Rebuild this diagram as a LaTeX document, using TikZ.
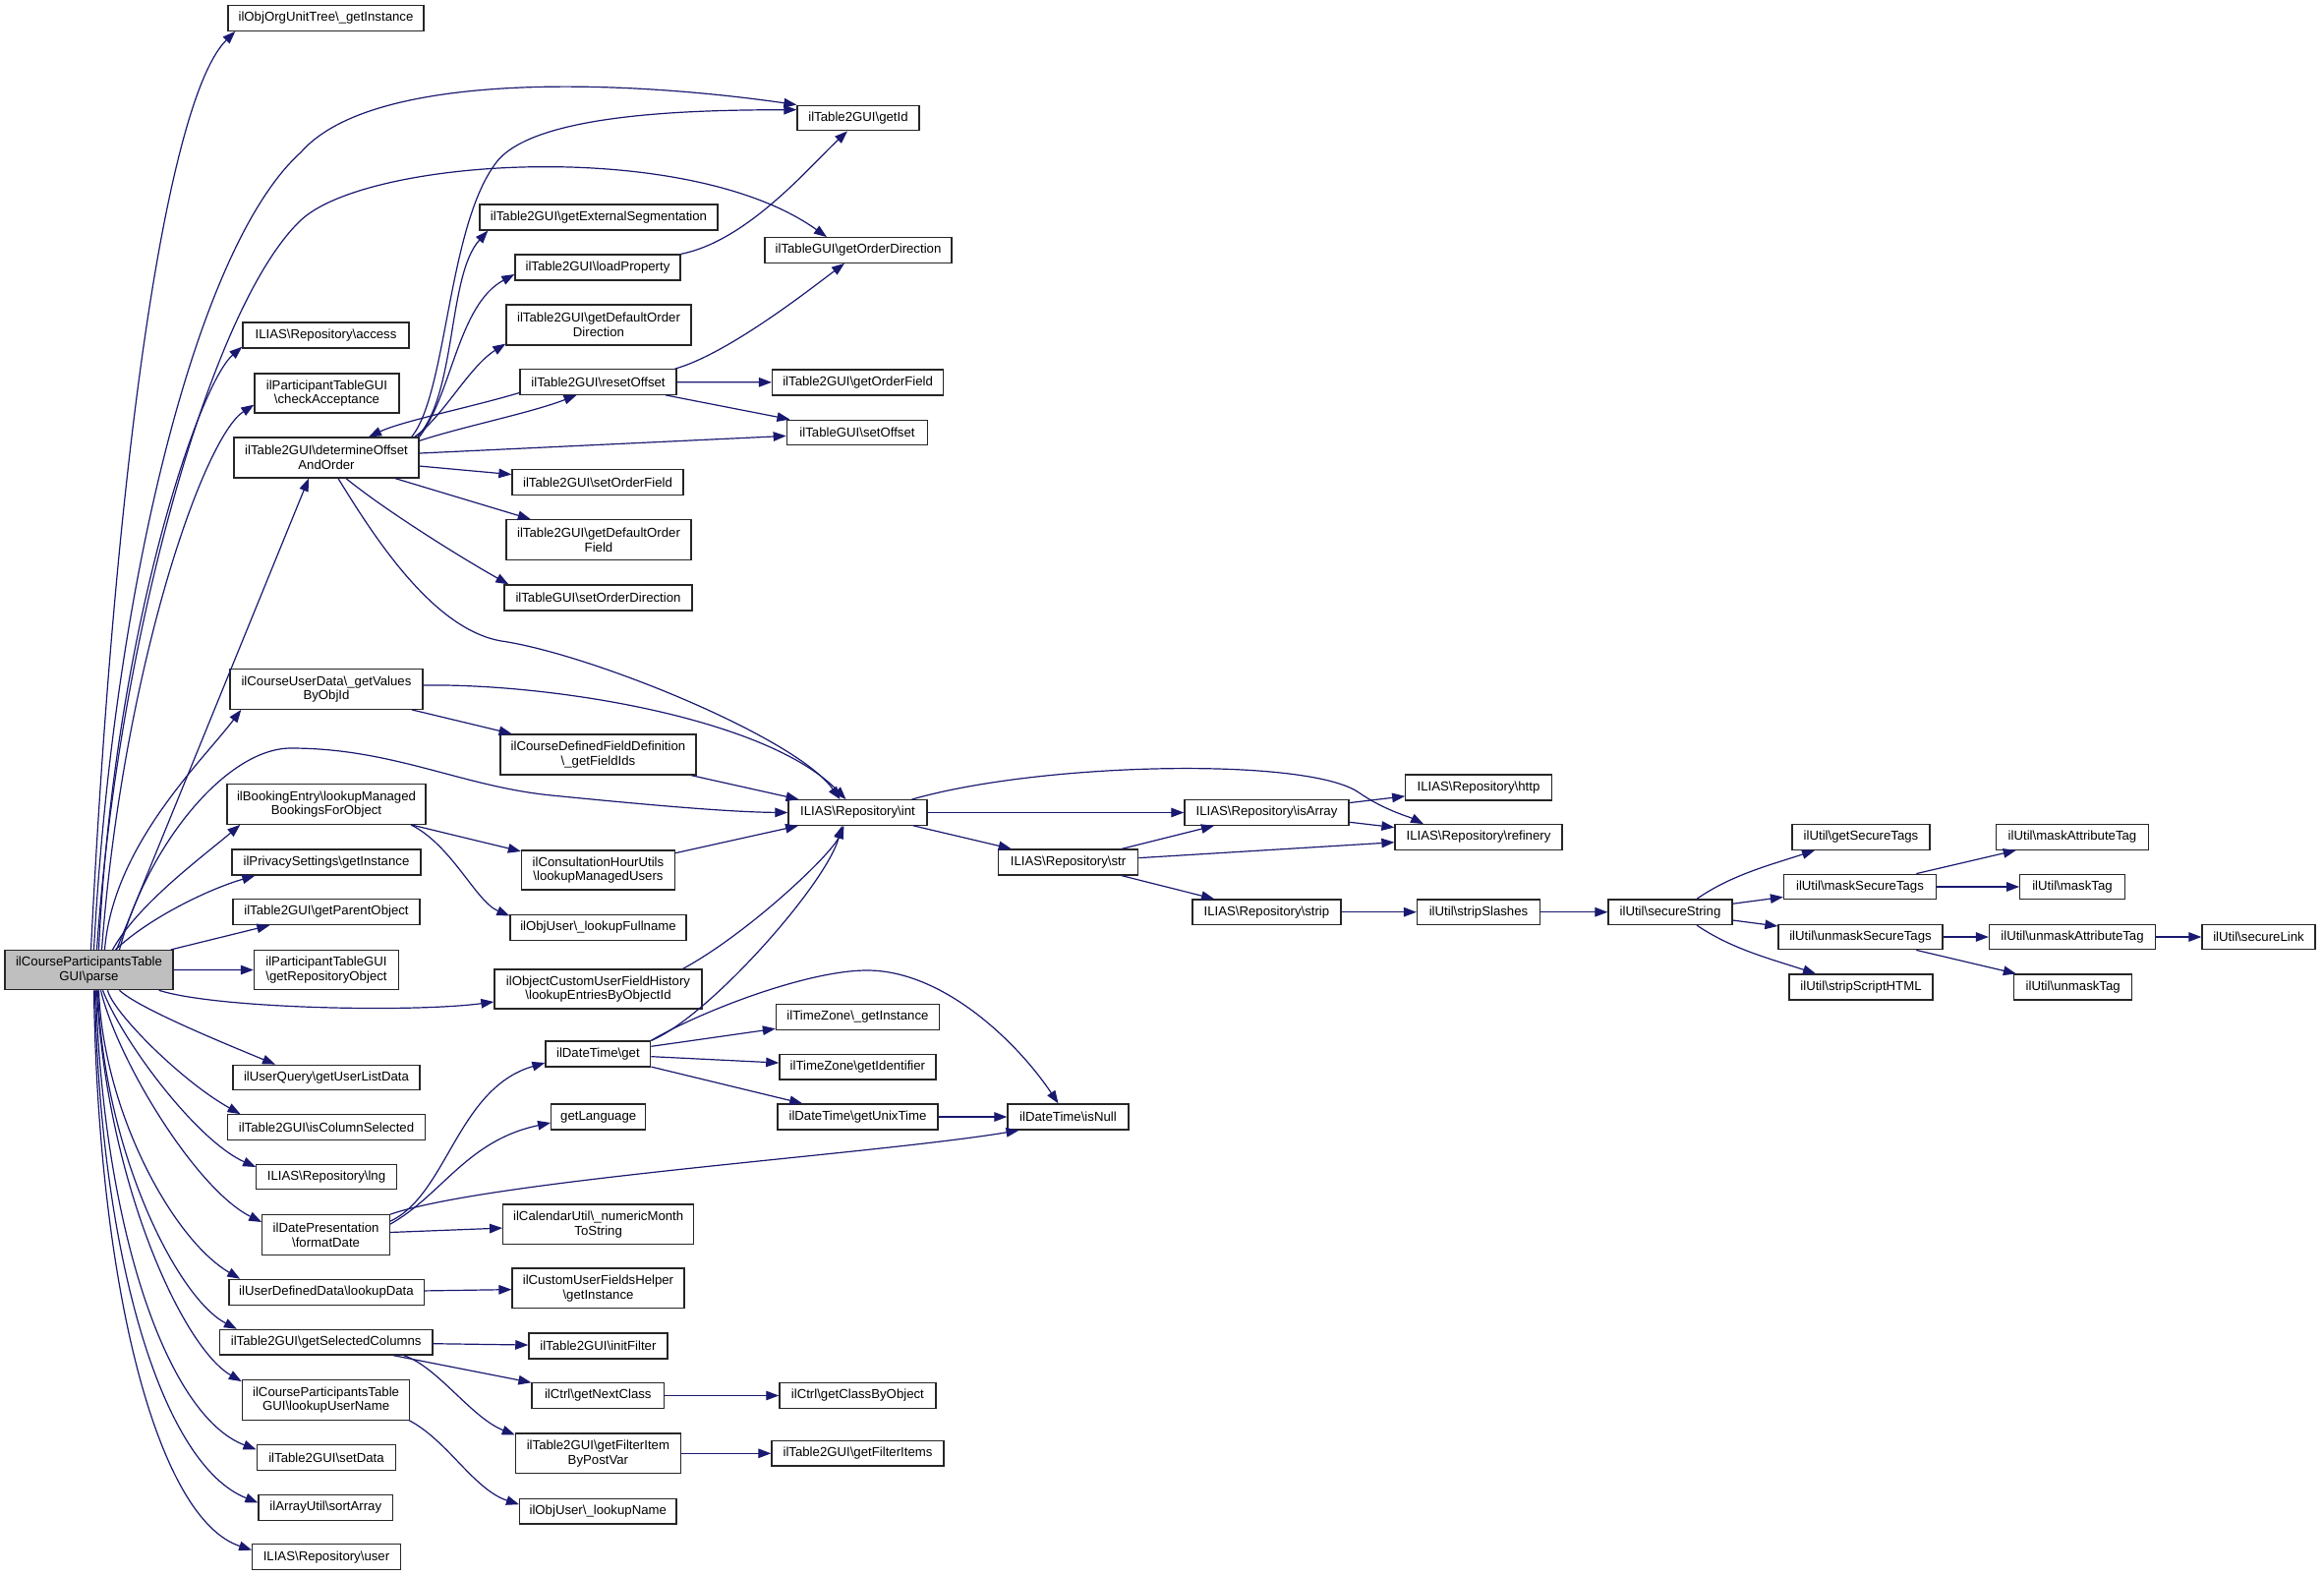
\documentclass[tikz,border=0pt]{standalone}
\usepackage{fontspec}
\setmainfont{Liberation Sans}
\usetikzlibrary{arrows.meta}
\definecolor{callblue}{HTML}{191970}
\newcommand{\bsl}{\textbackslash}
\tikzset{
  fn/.style={draw=black!85, line width=1.3pt, fill=white, inner sep=0pt, align=center,
    font=\fontsize{13.2}{14.8}\selectfont},
  root/.style={fn, fill=black!25},
  call/.style={draw=callblue, line width=1.2pt, -{Triangle[length=13pt, width=9.5pt]}}
}
\begin{document}
\begin{tikzpicture}[x=1pt, y=-1pt]
        \useasboundingbox [fill=white] (0,0) rectangle (2364,1603);
        % root
        \node [root, minimum width=171, minimum height=40] (parse) at (90.5,986.6) {ilCourseParticipantsTable\\GUI\bsl parse};
        % first column
        \node [fn, minimum width=199, minimum height=25.5] (orgunit) at (331.5,18.5) {ilObjOrgUnitTree\bsl\_getInstance};
        \node [fn, minimum width=169, minimum height=26] (access) at (331.5,341) {ILIAS\bsl Repository\bsl access};
        \node [fn, minimum width=147, minimum height=40] (checkacc) at (332.5,400) {ilParticipantTableGUI\\\bsl checkAcceptance};
        \node [fn, minimum width=188, minimum height=41] (detoff) at (332,465.5) {ilTable2GUI\bsl determineOffset\\AndOrder};
        \node [fn, minimum width=196, minimum height=40.5] (getvalues) at (332,701) {ilCourseUserData\bsl\_getValues\\ByObjId};
        \node [fn, minimum width=202, minimum height=40.5] (bookings) at (332,818) {ilBookingEntry\bsl lookupManaged\\BookingsForObject};
        \node [fn, minimum width=192, minimum height=26] (privacy) at (332,877) {ilPrivacySettings\bsl getInstance};
        \node [fn, minimum width=190, minimum height=26] (parentobj) at (332,927.5) {ilTable2GUI\bsl getParentObject};
        \node [fn, minimum width=147, minimum height=40.5] (reposobj) at (332,986.5) {ilParticipantTableGUI\\\bsl getRepositoryObject};
        \node [fn, minimum width=190, minimum height=25.5] (userquery) at (332,1096) {ilUserQuery\bsl getUserListData};
        \node [fn, minimum width=201.6, minimum height=25.5] (iscolsel) at (332,1146.5) {ilTable2GUI\bsl isColumnSelected};
        \node [fn, minimum width=142.5, minimum height=25.5] (lng) at (332,1197) {ILIAS\bsl Repository\bsl lng};
        \node [fn, minimum width=129.6, minimum height=40.5] (formatdate) at (331.6,1256) {ilDatePresentation\\\bsl formatDate};
        \node [fn, minimum width=198.3, minimum height=26] (lookupdata) at (332,1314.4) {ilUserDefinedData\bsl lookupData};
        \node [fn, minimum width=216.3, minimum height=25.6] (selcols) at (331.7,1365.2) {ilTable2GUI\bsl getSelectedColumns};
        \node [fn, minimum width=170.4, minimum height=40.5] (lookupusername) at (331.6,1424) {ilCourseParticipantsTable\\GUI\bsl lookupUserName};
        \node [fn, minimum width=141.6, minimum height=26] (setdata) at (332,1482.3) {ilTable2GUI\bsl setData};
        \node [fn, minimum width=136.5, minimum height=26] (sortarray) at (331.3,1533.4) {ilArrayUtil\bsl sortArray};
        \node [fn, minimum width=150.4, minimum height=26] (user) at (332,1583.6) {ILIAS\bsl Repository\bsl user};
        % second column
        \node [fn, minimum width=242, minimum height=26] (extseg) at (609,221) {ilTable2GUI\bsl getExternalSegmentation};
        \node [fn, minimum width=168, minimum height=26] (loadprop) at (608,272) {ilTable2GUI\bsl loadProperty};
        \node [fn, minimum width=188, minimum height=41] (defodir) at (609,330.5) {ilTable2GUI\bsl getDefaultOrder\\Direction};
        \node [fn, minimum width=159, minimum height=25.5] (resetoff) at (608.5,388.5) {ilTable2GUI\bsl resetOffset};
        \node [fn, minimum width=174, minimum height=25.5] (setofield) at (608,490.5) {ilTable2GUI\bsl setOrderField};
        \node [fn, minimum width=188, minimum height=40.5] (defofield) at (609,549) {ilTable2GUI\bsl getDefaultOrder\\Field};
        \node [fn, minimum width=191, minimum height=26] (setodir) at (608.5,608) {ilTableGUI\bsl setOrderDirection};
        \node [fn, minimum width=199, minimum height=41] (fieldids) at (608.5,767.5) {ilCourseDefinedFieldDefinition\\\bsl\_getFieldIds};
        \node [fn, minimum width=156, minimum height=40] (mgdusers) at (608.5,885) {ilConsultationHourUtils\\\bsl lookupManagedUsers};
        \node [fn, minimum width=179, minimum height=26] (fullname) at (608.5,943.5) {ilObjUser\bsl\_lookupFullname};
        \node [fn, minimum width=211, minimum height=40] (entries) at (608.5,1006) {ilObjectCustomUserFieldHistory\\\bsl lookupEntriesByObjectId};
        \node [fn, minimum width=106.7, minimum height=26] (dtget) at (608.4,1072) {ilDateTime\bsl get};
        \node [fn, minimum width=96, minimum height=26] (getlang) at (608.7,1136) {getLanguage};
        \node [fn, minimum width=194, minimum height=40.5] (monthstr) at (608.7,1245.3) {ilCalendarUtil\bsl\_numericMonth\\ToString};
        \node [fn, minimum width=175, minimum height=40.5] (fieldshelper) at (608.5,1310.3) {ilCustomUserFieldsHelper\\\bsl getInstance};
        \node [fn, minimum width=141, minimum height=26] (initfilter) at (608.4,1369) {ilTable2GUI\bsl initFilter};
        \node [fn, minimum width=134.5, minimum height=26] (nextclass) at (608.3,1419.5) {ilCtrl\bsl getNextClass};
        \node [fn, minimum width=168, minimum height=40.5] (filteritem) at (608.4,1478.3) {ilTable2GUI\bsl getFilterItem\\ByPostVar};
        \node [fn, minimum width=159.4, minimum height=25.6] (lookupname) at (608.3,1537.2) {ilObjUser\bsl\_lookupName};
        % third column
        \node [fn, minimum width=124, minimum height=25.5] (getid) at (873,120) {ilTable2GUI\bsl getId};
        \node [fn, minimum width=190, minimum height=25.5] (getodir) at (873,254.5) {ilTableGUI\bsl getOrderDirection};
        \node [fn, minimum width=174, minimum height=26] (getofield) at (872.6,389) {ilTable2GUI\bsl getOrderField};
        \node [fn, minimum width=143.4, minimum height=25.5] (setoff) at (872,440) {ilTableGUI\bsl setOffset};
        \node [fn, minimum width=141, minimum height=25.5] (int) at (872.5,826.5) {ILIAS\bsl Repository\bsl int};
        \node [fn, minimum width=166, minimum height=25.5] (tzinst) at (872.5,1034.4) {ilTimeZone\bsl\_getInstance};
        \node [fn, minimum width=159, minimum height=25.7] (tzident) at (872.4,1085) {ilTimeZone\bsl getIdentifier};
        \node [fn, minimum width=163, minimum height=26] (unixtime) at (872.5,1136) {ilDateTime\bsl getUnixTime};
        \node [fn, minimum width=159, minimum height=26] (classbyobj) at (872.4,1419.5) {ilCtrl\bsl getClassByObject};
        \node [fn, minimum width=175, minimum height=25.5] (filteritems) at (872.5,1478.3) {ilTable2GUI\bsl getFilterItems};
        % right part
        \node [fn, minimum width=142, minimum height=26] (str) at (1086.6,877) {ILIAS\bsl Repository\bsl str};
        \node [fn, minimum width=123, minimum height=26] (isnull) at (1086.5,1136) {ilDateTime\bsl isNull};
        \node [fn, minimum width=167, minimum height=25.5] (isarray) at (1288.5,826.5) {ILIAS\bsl Repository\bsl isArray};
        \node [fn, minimum width=151, minimum height=25.5] (strip) at (1288.4,927.7) {ILIAS\bsl Repository\bsl strip};
        \node [fn, minimum width=148.5, minimum height=26] (http) at (1504,801) {ILIAS\bsl Repository\bsl http};
        \node [fn, minimum width=170, minimum height=25.5] (refinery) at (1504,851.5) {ILIAS\bsl Repository\bsl refinery};
        \node [fn, minimum width=125, minimum height=25.5] (stripslashes) at (1504,927.7) {ilUtil\bsl stripSlashes};
        \node [fn, minimum width=126, minimum height=25.5] (securestr) at (1699,927.7) {ilUtil\bsl secureString};
        \node [fn, minimum width=140, minimum height=25.5] (getsectags) at (1893,851.5) {ilUtil\bsl getSecureTags};
        \node [fn, minimum width=155, minimum height=25.5] (masksectags) at (1892,902) {ilUtil\bsl maskSecureTags};
        \node [fn, minimum width=167, minimum height=25.5] (unmasksectags) at (1892.5,953) {ilUtil\bsl unmaskSecureTags};
        \node [fn, minimum width=146, minimum height=26] (stripscript) at (1893,1004) {ilUtil\bsl stripScriptHTML};
        \node [fn, minimum width=154.5, minimum height=25.5] (maskattr) at (2108,851.5) {ilUtil\bsl maskAttributeTag};
        \node [fn, minimum width=106.5, minimum height=25.5] (masktag) at (2108,902) {ilUtil\bsl maskTag};
        \node [fn, minimum width=169, minimum height=25.5] (unmaskattr) at (2108,953) {ilUtil\bsl unmaskAttributeTag};
        \node [fn, minimum width=120, minimum height=26] (unmasktag) at (2108.7,1004) {ilUtil\bsl unmaskTag};
        \node [fn, minimum width=115, minimum height=25.5] (securelink) at (2297.5,953) {ilUtil\bsl secureLink};
        % calls from parse, upwards
        \draw [call] ([xshift=2]parse.north) .. controls (120,420) and (175,95) .. ([xshift=8]orgunit.south west);
        \draw [call] ([xshift=5]parse.north) .. controls (115,600) and (200,250) .. (306,155) .. controls (380,70) and (640,82) .. (getid.north west);
        \draw [call] ([xshift=8]parse.north) .. controls (120,650) and (215,310) .. (306,224) .. controls (374,160) and (700,140) .. ([xshift=-32]getodir.north);
        \draw [call] ([xshift=10]parse.north) .. controls (115,650) and (201,392) .. ([yshift=2]access.south west);
        \draw [call] ([xshift=13]parse.north) .. controls (125,680) and (207,445) .. ([yshift=9]checkacc.south west);
        \draw [call] ([xshift=28]parse.north) -- ([xshift=-18]detoff.south);
        \draw [call] ([xshift=16]parse.north) .. controls (115,860) and (205,775) .. ([xshift=12]getvalues.south west);
        \draw [call] ([xshift=31]parse.north) .. controls (150,860) and (230,761) .. (296,761) .. controls (400,761) and (470,800) .. (561,809) .. controls (652,818) and (740,826) .. (int.west);
        \draw [call] ([xshift=24]parse.north) .. controls (140,920) and (204,873) .. ([xshift=14]bookings.south west);
        \draw [call] ([xshift=27]parse.north) .. controls (150,935) and (210,905) .. ([xshift=24]privacy.south west);
        \draw [call] ([xshift=-3]parse.north east) -- ([xshift=38]parentobj.south west);
        \draw [call] (parse) -- (reposobj);
        \draw [call] ([xshift=-15]parse.south east) .. controls (220,1026) and (420,1030) .. ([yshift=-13]entries.west);
        % calls from parse, downwards
        \draw [call] ([xshift=31]parse.south) .. controls (140,1025) and (225,1060) .. ([xshift=-52]userquery.north);
        \draw [call] ([xshift=19]parse.south) .. controls (115,1030) and (185,1100) .. ([xshift=14]iscolsel.north west);
        \draw [call] ([xshift=14]parse.south) .. controls (125,1060) and (200,1160) .. ([yshift=10]lng.west);
        \draw [call] ([xshift=12]parse.south) .. controls (120,1080) and (200,1210) .. ([yshift=13]formatdate.west);
        \draw [call] ([xshift=10]parse.south) .. controls (105,1130) and (175,1260) .. ([xshift=12]lookupdata.north west);
        \draw [call] ([xshift=9]parse.south) .. controls (105,1170) and (180,1320) .. ([xshift=18]selcols.north west);
        \draw [call] ([xshift=8]parse.south) .. controls (108,1200) and (185,1370) .. ([yshift=-2]lookupusername.north west);
        \draw [call] ([xshift=7]parse.south) .. controls (105,1250) and (170,1440) .. ([yshift=8]setdata.west);
        \draw [call] ([xshift=6]parse.south) .. controls (102,1280) and (165,1490) .. ([yshift=5]sortarray.west);
        \draw [call] ([xshift=5]parse.south) .. controls (100,1310) and (160,1545) .. ([yshift=7]user.west);
        % determineOffsetAndOrder and resetOffset
        \draw [call] ([xshift=-8]detoff.north east) .. controls (455,400) and (455,230) .. (505,165) .. controls (545,113) and (720,112) .. ([yshift=-5]getid.north west);
        \draw [call] ([xshift=-2]detoff.north east) .. controls (465,400) and (455,280) .. ([xshift=9]extseg.south west);
        \draw [call] (detoff.north east) .. controls (460,400) and (466,310) .. ([yshift=-7]loadprop.west);
        \draw [call] ([xshift=-5]detoff.north east) .. controls (450,425) and (477,373) .. ([yshift=2]defodir.south west);
        \draw [call] ([yshift=-4]detoff.north east) .. controls (470,434) and (540,420) .. ([xshift=-22]resetoff.south);
        \draw [call] ([yshift=-11]resetoff.west) .. controls (480,414) and (410,428) .. ([xshift=43]detoff.north);
        \draw [call] (detoff) -- (setoff);
        \draw [call] (detoff) -- (setofield);
        \draw [call] (detoff) -- (defofield);
        \draw [call] ([xshift=20]detoff.south) .. controls (393,520) and (472,569) .. ([xshift=5]setodir.north west);
        \draw [call] ([xshift=12]detoff.south) .. controls (380,545) and (440,640) .. (510,652) .. controls (600,665) and (810,750) .. ([xshift=-18]int.north);
        \draw [call] ([xshift=-2]resetoff.north east) .. controls (740,360) and (823,295) .. ([xshift=-14]getodir.south);
        \draw [call] (resetoff) -- (getofield);
        \draw [call] (resetoff) -- (setoff);
        \draw [call] (loadprop.north east) .. controls (760,245) and (822,171) .. ([xshift=-11]getid.south);
        % middle part
        \draw [call] ([yshift=4]getvalues.east) .. controls (560,695) and (780,730) .. ([xshift=-12]int.north);
        \draw [call] (getvalues) -- (fieldids);
        \draw [call] (fieldids) -- (int);
        \draw [call] (bookings) -- (mgdusers);
        \draw [call] ([xshift=86]bookings.south) .. controls (460,860) and (484,917) .. ([yshift=12]fullname.west);
        \draw [call] (mgdusers) -- (int);
        \draw [call] ([xshift=-20]entries.north east) .. controls (760,950) and (845,870) .. ([xshift=-14]int.south);
        \draw [call] (dtget.north east) .. controls (720,1035) and (840,900) .. ([xshift=-16]int.south);
        \draw [call] (dtget.north east) .. controls (710,1030) and (820,987) .. (882,987) .. controls (960,987) and (1035.5,1061) .. ([xshift=-10]isnull.north);
        \draw [call] (dtget) -- (tzinst);
        \draw [call] (dtget) -- (tzident);
        \draw [call] (dtget) -- (unixtime);
        \draw [call] (unixtime) -- (isnull);
        \draw [call] ([yshift=-7]formatdate.north east) .. controls (455,1215) and (465,1107) .. ([yshift=-9]dtget.west);
        \draw [call] ([yshift=-10]formatdate.north east) .. controls (450,1215) and (475,1160) .. ([yshift=-6]getlang.west);
        \draw [call] (formatdate.north east) .. controls (500,1200) and (891,1174) .. ([xshift=-50]isnull.south);
        \draw [call] (formatdate) -- (monthstr);
        \draw [call] (lookupdata) -- (fieldshelper);
        \draw [call] (selcols) -- (initfilter);
        \draw [call] (selcols) -- (nextclass);
        \draw [call] ([xshift=79]selcols.south) .. controls (445,1390) and (479.5,1442) .. ([yshift=-2]filteritem.north west);
        \draw [call] (nextclass) -- (classbyobj);
        \draw [call] (filteritem) -- (filteritems);
        \draw [call] ([xshift=-1]lookupusername.south east) .. controls (455,1465) and (482,1515) .. ([yshift=7]lookupname.west);
        % repository and util calls
        \draw [call] (int) -- (isarray);
        \draw [call] (int) -- (str);
        \draw [call] ([xshift=55]int.north) .. controls (1060,775) and (1330,770) .. (1382,806) .. controls (1408,824) and (1433,830.6) .. ([xshift=-56]refinery.north);
        \draw [call] (isarray) -- (http);
        \draw [call] (isarray) -- (refinery);
        \draw [call] (str) -- (isarray);
        \draw [call] (str) -- (refinery);
        \draw [call] (str) -- (strip);
        \draw [call] (strip) -- (stripslashes);
        \draw [call] (stripslashes) -- (securestr);
        \draw [call] ([xshift=27]securestr.north) .. controls (1761,890) and (1800,880) .. ([xshift=-47]getsectags.south);
        \draw [call] (securestr) -- (masksectags);
        \draw [call] (securestr) -- (unmasksectags);
        \draw [call] ([xshift=27]securestr.south) .. controls (1761,965) and (1800,975) .. ([xshift=-46]stripscript.north);
        \draw [call] (masksectags) -- (maskattr);
        \draw [call] (masksectags) -- (masktag);
        \draw [call] (unmasksectags) -- (unmaskattr);
        \draw [call] (unmasksectags) -- (unmasktag);
        \draw [call] (unmaskattr) -- (securelink);
      \end{tikzpicture}
\end{document}
